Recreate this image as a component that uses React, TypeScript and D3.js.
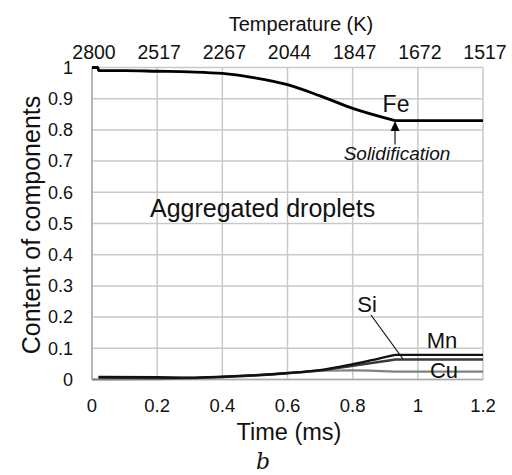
import React from "react";
import * as d3 from "d3";

const timeTicks = [0, 0.2, 0.4, 0.6, 0.8, 1, 1.2];
const tempLabels = ["2800", "2517", "2267", "2044", "1847", "1672", "1517"];
const yTicks = [0, 0.1, 0.2, 0.3, 0.4, 0.5, 0.6, 0.7, 0.8, 0.9, 1];

const feTime = [0, 0.018, 0.02, 0.1, 0.2, 0.3, 0.4, 0.5, 0.6, 0.7, 0.8, 0.93, 1.2];
const feVal = [1, 1, 0.99, 0.99, 0.988, 0.986, 0.981, 0.967, 0.945, 0.909, 0.869, 0.83, 0.83];

const mnTime = [0.02, 0.2, 0.3, 0.4, 0.5, 0.6, 0.7, 0.8, 0.93, 1.2];
const mnVal = [0.008, 0.007, 0.006, 0.009, 0.014, 0.021, 0.03, 0.049, 0.079, 0.079];
const siTime = [0.02, 0.2, 0.3, 0.4, 0.5, 0.6, 0.7, 0.8, 0.93, 1.2];
const siVal = [0.006, 0.005, 0.005, 0.008, 0.013, 0.02, 0.029, 0.044, 0.064, 0.064];
const cuTime = [0, 0.2, 0.3, 0.4, 0.5, 0.6, 0.7, 0.8, 0.93, 1.2];
const cuVal = [0, 0.001, 0.004, 0.008, 0.013, 0.02, 0.028, 0.029, 0.025, 0.025];

const solidTime = 0.93;
const solidVal = 0.83;

export default function App() {
  const x = d3.scaleLinear().domain([0, 1.2]).range([92, 483]);
  const y = d3.scaleLinear().domain([0, 1]).range([379.5, 67.5]);
  const curved = d3
    .line<[number, number]>()
    .x((d) => x(d[0]))
    .y((d) => y(d[1]))
    .curve(d3.curveMonotoneX);
  const straight = d3
    .line<[number, number]>()
    .x((d) => x(d[0]))
    .y((d) => y(d[1]));
  const zip = (t: number[], v: number[]) => t.map((tt, i) => [tt, v[i]] as [number, number]);
  const seriesPath = (t: number[], v: number[]) => {
    const pts = zip(t, v);
    const before = pts.filter((p) => p[0] <= solidTime);
    const after = pts.filter((p) => p[0] >= solidTime);
    return (curved(before) || "") + (straight(after) || "");
  };
  const font = "Liberation Sans, Arial, sans-serif";
  const grid = "#c9c9c9";

  const ax = x(solidTime);
  const ay = y(solidVal);

  return (
    <svg
      width={512}
      height={475}
      style={{ position: "absolute", left: 0, top: 0, background: "#fff" }}
      fontFamily={font}
    >
      <rect width={512} height={475} fill="#fff" />
      {/* grid */}
      {yTicks.map((t) => (
        <line key={"h" + t} x1={x(0)} x2={x(1.2)} y1={y(t)} y2={y(t)} stroke={grid} strokeWidth={1.5} />
      ))}
      {timeTicks.map((t) => (
        <line key={"v" + t} x1={x(t)} x2={x(t)} y1={y(0)} y2={y(1)} stroke={grid} strokeWidth={1.5} />
      ))}
      <line x1={x(0)} x2={x(0)} y1={y(0)} y2={y(1)} stroke="#aaa" strokeWidth={1.5} />
      <line x1={x(0)} x2={x(1.2)} y1={y(0)} y2={y(0)} stroke="#aaa" strokeWidth={1.5} />

      {/* y tick labels */}
      {yTicks.map((t) => (
        <text key={"yl" + t} x={73} y={y(t)} dy="0.35em" textAnchor="end" fontSize={18} fill="#111">
          {d3.format("~g")(t)}
        </text>
      ))}
      {/* bottom tick labels */}
      {timeTicks.map((t) => (
        <text key={"xl" + t} x={x(t)} y={405.5} dy="0.35em" textAnchor="middle" fontSize={18.5} fill="#111">
          {d3.format("~g")(t)}
        </text>
      ))}
      {/* top tick labels */}
      {timeTicks.map((t, i) => (
        <text key={"tl" + t} x={x(t) + 2} y={52} dy="0.35em" textAnchor="middle" fontSize={19.5} fill="#111">
          {tempLabels[i]}
        </text>
      ))}

      <text x={301} y={24} dy="0.35em" textAnchor="middle" fontSize={20} fill="#111">
        Temperature (K)
      </text>
      <text x={289} y={432} dy="0.35em" textAnchor="middle" fontSize={23.5} fill="#111">
        Time (ms)
      </text>
      <text
        transform={`translate(31,225) rotate(-90)`}
        dy="0.35em"
        textAnchor="middle"
        fontSize={25}
        fill="#111"
      >
        Content of components
      </text>
      <text x={263} y={469} textAnchor="middle" fontSize={22} fontStyle="italic" fontFamily="DejaVu Serif, serif" fill="#111">
        b
      </text>

      {/* series */}
      <path d={seriesPath(cuTime, cuVal)} fill="none" stroke="#808080" strokeWidth={2.2} />
      <path d={seriesPath(siTime, siVal)} fill="none" stroke="#3a3a3a" strokeWidth={2.4} />
      <path d={seriesPath(mnTime, mnVal)} fill="none" stroke="#111" strokeWidth={2.4} />
      <path d={seriesPath(feTime, feVal)} fill="none" stroke="#000" strokeWidth={2.8} />

      {/* annotations */}
      <text x={150} y={217} fontSize={25} fill="#111">
        Aggregated droplets
      </text>
      <text x={396} y={112} textAnchor="middle" fontSize={23} fill="#111">
        Fe
      </text>
      <line x1={ax} x2={ax} y1={ay + 9} y2={ay + 24} stroke="#444" strokeWidth={1.5} />
      <path d={`M${ax},${ay + 0.5} L${ax - 4.5},${ay + 10.5} L${ax + 4.5},${ay + 10.5} Z`} fill="#000" />
      <text x={397} y={160} textAnchor="middle" fontSize={19} fontStyle="italic" fill="#111">
        Solidification
      </text>
      <text x={367} y={312} textAnchor="middle" fontSize={22} fill="#111">
        Si
      </text>
      <line x1={371} y1={315} x2={403} y2={359} stroke="#111" strokeWidth={1.2} />
      <text x={442} y={348} textAnchor="middle" fontSize={22} fill="#111">
        Mn
      </text>
      <text x={444} y={378} textAnchor="middle" fontSize={22} fill="#111">
        Cu
      </text>
    </svg>
  );
}
